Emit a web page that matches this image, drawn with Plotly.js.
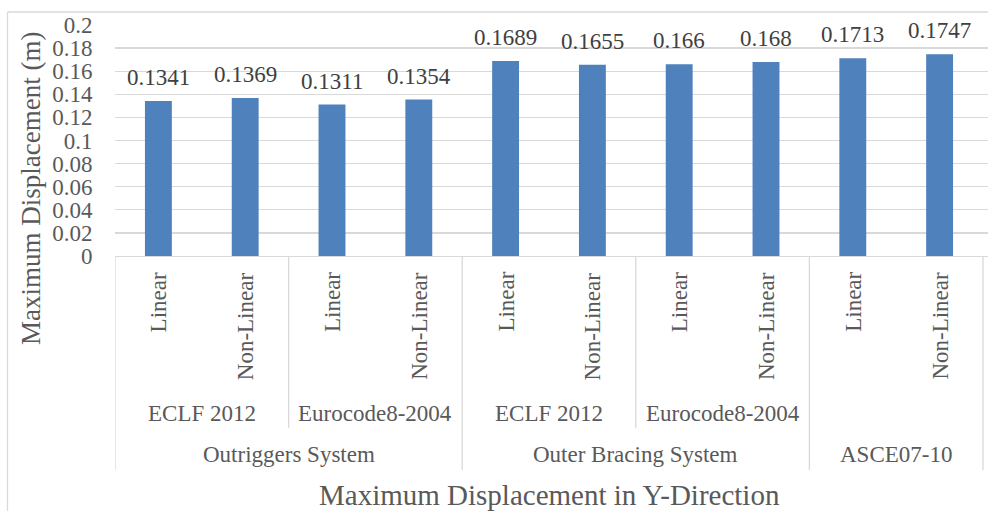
<!DOCTYPE html>
<html>
<head>
<meta charset="utf-8">
<script src="https://cdn.plot.ly/plotly-3.0.1.min.js"></script>
<style>
  html, body { margin: 0; padding: 0; background: #ffffff; }
  #chart { width: 988px; height: 511px; }
</style>
</head>
<body>
<div id="chart"></div>
<script>
// Maximum displacement in the Y direction, per system / code / analysis type
const analysisTypes = ['Linear', 'Non-Linear', 'Linear', 'Non-Linear', 'Linear',
                       'Non-Linear', 'Linear', 'Non-Linear', 'Linear', 'Non-Linear'];
const displacements = [0.1341, 0.1369, 0.1311, 0.1354, 0.1689,
                       0.1655, 0.166, 0.168, 0.1713, 0.1747];
// second level: one label per pair of bars (ASCE07-10 has none)
const codeLabels = ['ECLF 2012', 'Eurocode8-2004', 'ECLF 2012', 'Eurocode8-2004', ''];
const codeSpans = [2, 2, 2, 2, 2];
// third level
const systemLabels = ['Outriggers System', 'Outer Bracing System', 'ASCE07-10'];
const systemSpans = [4, 4, 2];
const yTickVals = [0, 0.02, 0.04, 0.06, 0.08, 0.1, 0.12, 0.14, 0.16, 0.18, 0.2];
const yTickText = ['0', '0.02', '0.04', '0.06', '0.08', '0.1', '0.12', '0.14', '0.16', '0.18', '0.2'];

const FONT = 'Liberation Serif, Times New Roman, serif';
const AXIS_GRAY = '#595959';
const LINE_GRAY = '#D9D9D9';

// page geometry
const W = 988, H = 511;
const M = { l: 115, r: 0, t: 25, b: 255 };
const plotW = W - M.l - M.r;
const plotH = H - M.t - M.b;
const paperX = px => (px - M.l) / plotW;
const paperY = py => (H - M.b - py) / plotH;

// categories fill 868px; the grid runs on a few pixels past the last one
const nCat = analysisTypes.length;
const catPx = 868 / nCat;
const xMax = nCat - 0.5 + (plotW - 868) / catPx;

const xIdx = analysisTypes.map((_, i) => i);

const annotations = [];
const shapes = [];

// value labels above the bars
displacements.forEach((v, i) => {
  annotations.push({
    x: i, y: v, xref: 'x', yref: 'y',
    text: String(v), showarrow: false,
    xanchor: 'center', yanchor: 'bottom', yshift: 9,
    font: { family: FONT, size: 23, color: '#404040' }
  });
});

// first level: rotated analysis type
analysisTypes.forEach((t, i) => {
  annotations.push({
    x: i, y: paperY(270), xref: 'x', yref: 'paper',
    text: t, showarrow: false, textangle: -90,
    xanchor: 'center', yanchor: 'top',
    font: { family: FONT, size: 23, color: AXIS_GRAY }
  });
});

// second level: design code
let pos = 0;
codeLabels.forEach((c, k) => {
  const span = codeSpans[k];
  if (c) {
    annotations.push({
      x: pos + (span - 1) / 2, y: paperY(413), xref: 'x', yref: 'paper',
      text: c, showarrow: false, xanchor: 'center', yanchor: 'middle',
      font: { family: FONT, size: 23, color: AXIS_GRAY }
    });
  }
  pos += span;
});

// third level: structural system
const systemBounds = [0];
pos = 0;
systemLabels.forEach((s, k) => {
  const span = systemSpans[k];
  annotations.push({
    x: pos + (span - 1) / 2, y: paperY(454), xref: 'x', yref: 'paper',
    text: s, showarrow: false, xanchor: 'center', yanchor: 'middle',
    font: { family: FONT, size: 23, color: AXIS_GRAY }
  });
  pos += span;
  systemBounds.push(pos);
});

// separators: long ones between systems, short ones between codes
const line = (x, y1px) => ({
  type: 'line', xref: 'x', yref: 'paper',
  x0: x - 0.5, x1: x - 0.5, y0: 0, y1: paperY(y1px),
  line: { color: LINE_GRAY, width: 1.3 }
});
systemBounds.forEach(b => shapes.push(line(b, 470)));
pos = 0;
codeSpans.forEach(span => {
  if (pos > 0 && !systemBounds.includes(pos)) shapes.push(line(pos, 428));
  pos += span;
});

// chart frame (top and left edges)
shapes.push({
  type: 'line', xref: 'paper', yref: 'paper',
  x0: paperX(7.5), x1: paperX(988), y0: paperY(12), y1: paperY(12),
  line: { color: LINE_GRAY, width: 1.3 }
});
shapes.push({
  type: 'line', xref: 'paper', yref: 'paper',
  x0: paperX(7.5), x1: paperX(7.5), y0: paperY(12), y1: paperY(511),
  line: { color: LINE_GRAY, width: 1.3 }
});

// axis titles
annotations.push({
  x: paperX(549), y: paperY(495), xref: 'paper', yref: 'paper',
  text: 'Maximum Displacement in Y-Direction', showarrow: false,
  xanchor: 'center', yanchor: 'middle',
  font: { family: FONT, size: 29, color: AXIS_GRAY }
});
annotations.push({
  x: paperX(31), y: paperY(189), xref: 'paper', yref: 'paper',
  text: 'Maximum Displacement (m)', showarrow: false, textangle: -90,
  xanchor: 'center', yanchor: 'middle',
  font: { family: FONT, size: 27, color: AXIS_GRAY }
});

const trace = {
  type: 'bar',
  x: xIdx,
  y: displacements,
  marker: { color: '#4F81BD' },
  hoverinfo: 'skip'
};

const layout = {
  width: W, height: H,
  margin: M,
  paper_bgcolor: '#ffffff',
  plot_bgcolor: '#ffffff',
  showlegend: false,
  bargap: 0.69,
  font: { family: FONT, color: AXIS_GRAY },
  xaxis: {
    range: [-0.5, xMax],
    showticklabels: false, showgrid: false, zeroline: false,
    showline: true, linecolor: LINE_GRAY, linewidth: 1.3, ticks: ''
  },
  yaxis: {
    range: [0, 0.2],
    tickmode: 'array', tickvals: yTickVals, ticktext: yTickText,
    showgrid: true, gridcolor: LINE_GRAY, gridwidth: 1.3,
    zeroline: false, showline: false,
    ticks: 'outside', ticklen: 17, tickcolor: 'rgba(0,0,0,0)',
    tickfont: { family: FONT, size: 23, color: AXIS_GRAY }
  },
  annotations: annotations,
  shapes: shapes
};

Plotly.newPlot('chart', [trace], layout, { staticPlot: true, displayModeBar: false });
</script>
</body>
</html>
